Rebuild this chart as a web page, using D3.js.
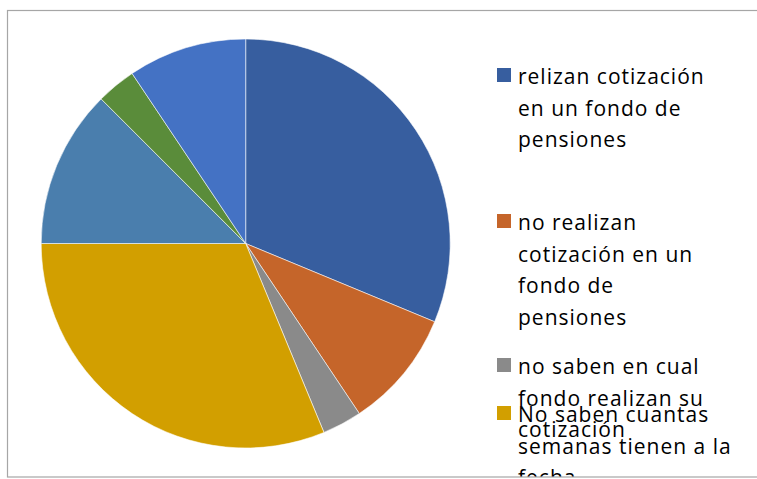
<!DOCTYPE html>
<html>
<head>
<meta charset="utf-8">
<script src="https://cdn.jsdelivr.net/npm/d3@7"></script>
<style>
  body { margin: 0; background: #fff; }
  svg { display: block; }
  .legend text { font-family: "Open Sans", sans-serif; font-size: 21px; fill: #000; letter-spacing: 1px; }
</style>
</head>
<body>
<svg id="canvas" width="757" height="479"></svg>
<script>
// slice values (counts), clockwise from 12 o'clock
let sliceValues = [10, 3, 1, 10, 4, 1, 3];
let sliceColors = ["#375E9F", "#C5652A", "#8A8A8A", "#D29F00", "#4A7EAD", "#5A8C3A", "#4472C4"];
// legend labels, only the first four are visible in the chart
let legendLabels = [
    "relizan cotización\nen un fondo de\npensiones",
    "no realizan\ncotización en un\nfondo de\npensiones",
    "no saben en cual\nfondo realizan su\ncotización",
    "No saben cuantas\nsemanas tienen a la\nfecha"
];

let width = 757, height = 479;
let canvas = d3.select("#canvas");

// chart frame
canvas.append("rect")
      .attr("x", 7.5).attr("y", 10.5)
      .attr("width", 760).attr("height", 466.5)
      .attr("fill", "#fff")
      .attr("stroke", "#A6A6A6")
      .attr("stroke-width", 1.2);

let cx = 245.7, cy = 243.5, radius = 204.5;

let pie = d3.pie().sort(null).value(d => d);
let arc = d3.arc().innerRadius(0).outerRadius(radius);

canvas.append("g")
      .attr("transform", `translate(${cx},${cy})`)
      .selectAll("path")
      .data(pie(sliceValues))
      .enter()
      .append("path")
      .attr("d", arc)
      .attr("fill", (d, i) => sliceColors[i])
      .attr("stroke", "#fff")
      .attr("stroke-width", 0.7)
      .attr("stroke-opacity", 0.8);

// legend (clipped by the plot frame like the original)
canvas.append("clipPath").attr("id", "legclip")
      .append("rect").attr("x", 0).attr("y", 0).attr("width", width).attr("height", 476.5);

let legendRowY = [75, 221, 365, 413];
let lineGap = 31.7;

let legend = canvas.append("g").attr("class", "legend").attr("clip-path", "url(#legclip)");
let items = legend.selectAll("g")
                  .data(legendLabels)
                  .enter()
                  .append("g")
                  .attr("transform", (d, i) => `translate(497,${legendRowY[i]})`);
items.append("rect")
     .attr("x", 0).attr("y", -7)
     .attr("width", 14).attr("height", 14)
     .attr("fill", (d, i) => sliceColors[i]);
items.each(function (label) {
    let t = d3.select(this).append("text").attr("x", 21).attr("y", 0);
    label.split("\n").forEach((line, k) => {
        t.append("tspan")
         .attr("x", 21)
         .attr("y", k * lineGap + 9)
         .text(line);
    });
});
</script>
</body>
</html>
